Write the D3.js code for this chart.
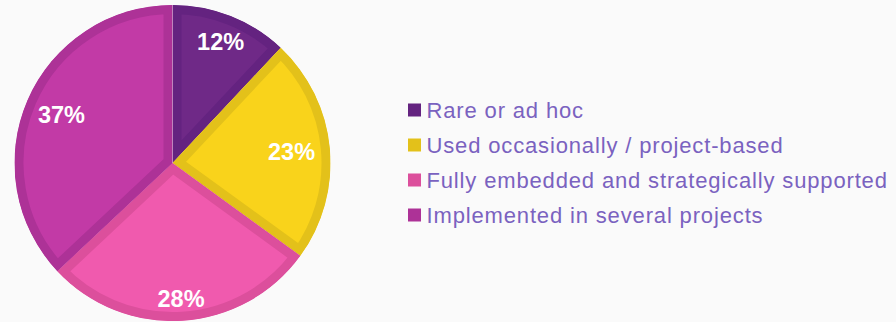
<!DOCTYPE html>
<html>
<head>
<meta charset="utf-8">
<script src="https://cdn.jsdelivr.net/npm/d3@7"></script>
<style>
  body { margin: 0; background: #fafafa; }
  svg { display: block; }
</style>
</head>
<body>
<div id="chart"></div>
<script>
// data
var categories = ["Rare or ad hoc", "Used occasionally / project-based",
                  "Fully embedded and strategically supported", "Implemented in several projects"];
var shares = [12, 23, 28, 37];
var fills = ["#6f2987", "#f9d31b", "#f05aae", "#c23aa6"];
var borders = ["#642380", "#e3c11a", "#dc4f9c", "#ad3297"];

var width = 896, height = 322;
var cx = 172.5, cy = 163, radius = 158, border = 9;

var svg = d3.select("#chart")
    .append("svg")
    .attr("width", width)
    .attr("height", height);

var pie = d3.pie().sort(null).value(function (d) { return d; });
var arcs = pie(shares);

var arc = d3.arc().innerRadius(0).outerRadius(radius);

var g = svg.append("g")
    .attr("transform", "translate(" + cx + "," + cy + ")");

var defs = svg.append("defs");
arcs.forEach(function (d, i) {
    defs.append("clipPath")
        .attr("id", "clip" + i)
        .append("path")
        .attr("d", arc(d));
});

// slices: darker band on the inside edge
g.selectAll("path.slice")
    .data(arcs)
    .enter()
    .append("path")
    .attr("class", "slice")
    .attr("d", arc)
    .attr("clip-path", function (d, i) { return "url(#clip" + i + ")"; })
    .style("fill", function (d, i) { return fills[i]; })
    .style("stroke", function (d, i) { return borders[i]; })
    .style("stroke-width", border * 2)
    .style("stroke-linejoin", "miter");

// percent labels, pulled in from the rim by their own width
var labels = g.selectAll("text.pct")
    .data(arcs)
    .enter()
    .append("text")
    .attr("class", "pct")
    .attr("text-anchor", "middle")
    .attr("dy", "0.36em")
    .style("font-family", "'Liberation Sans', Arial, sans-serif")
    .style("font-size", "23.5px")
    .style("font-weight", "bold")
    .style("fill", "#ffffff")
    .text(function (d) { return d.data + "%"; });

labels.attr("transform", function (d) {
    var a = (d.startAngle + d.endAngle) / 2;
    var hw = this.getComputedTextLength() / 2;
    var dist = radius * 0.868 - hw * 0.75 * Math.abs(Math.sin(a));
    return "translate(" + (dist * Math.sin(a)) + "," + (-dist * Math.cos(a)) + ")";
});

// legend
var legend = svg.append("g")
    .attr("transform", "translate(408,110)");

var rows = legend.selectAll("g")
    .data(categories)
    .enter()
    .append("g")
    .attr("transform", function (d, i) { return "translate(0," + (i * 35) + ")"; });

rows.append("rect")
    .attr("x", 0)
    .attr("y", -6.5)
    .attr("width", 13)
    .attr("height", 13)
    .style("fill", function (d, i) { return borders[i]; });

rows.append("text")
    .attr("x", 18.5)
    .attr("dy", "0.36em")
    .style("font-family", "'Liberation Sans', Arial, sans-serif")
    .style("font-size", "22px")
    .style("letter-spacing", "0.85px")
    .style("fill", "#7a62c0")
    .text(function (d) { return d; });
</script>
</body>
</html>
